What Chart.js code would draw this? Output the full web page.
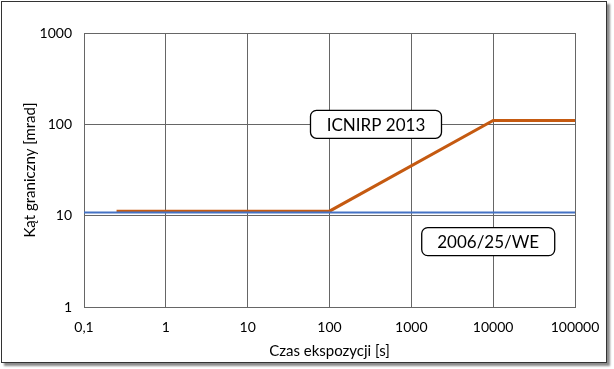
<!DOCTYPE html>
<html lang="pl">
<head>
  <meta charset="UTF-8">
  <title>Kąt graniczny</title>
  <script src="https://cdn.jsdelivr.net/npm/chart.js"></script>
  <style>
    html, body { margin: 0; padding: 0; background: #fff; }
    #wrap { position: relative; width: 614px; height: 369px; }
    #frame {
      position: absolute; left: 1px; top: 1px; width: 604px; height: 360px;
      border: 1.5px solid #333; box-shadow: 3px 3px 2px #8a8a8a; pointer-events: none;
    }
    canvas { position: absolute; left: 0; top: 0; }
  </style>
</head>
<body>
  <div id="wrap">
    <canvas id="chart" width="614" height="369"></canvas>
    <div id="frame"></div>
  </div>

  <script>
    const xTicks = [0.1, 1, 10, 100, 1000, 10000, 100000];
    const yTicks = [1, 10, 100, 1000];

    // ICNIRP 2013
    const icnirpX = [0.25, 100, 10000, 100000];
    const icnirpY = [11.2, 11.2, 110, 110];
    // 2006/25/WE
    const weX = [0.1, 100000];
    const weY = [10.8, 10.8];

    const labels = [
      { text: "ICNIRP 2013", x: 370, y: 100, w: 131, h: 28 },
      { text: "2006/25/WE", x: 8700, y: 5.2, w: 133, h: 28 }
    ];

    const toPts = (xs, ys) => xs.map((x, i) => ({ x: x, y: ys[i] }));
    const FONT = "Lato, 'Open Sans', sans-serif";
    const GRID = "#666666";

    const boxPlugin = {
      id: "boxes",
      afterDatasetsDraw(chart) {
        const ctx = chart.ctx;
        const xs = chart.scales.x, ys = chart.scales.y;
        ctx.save();
        labels.forEach(l => {
          const cx = xs.getPixelForValue(l.x), cy = ys.getPixelForValue(l.y);
          ctx.beginPath();
          ctx.roundRect(cx - l.w / 2, cy - l.h / 2, l.w, l.h, 6);
          ctx.fillStyle = "#fff";
          ctx.fill();
          ctx.lineWidth = 1.3;
          ctx.strokeStyle = "#000";
          ctx.stroke();
          ctx.fillStyle = "#000";
          ctx.font = "17px " + FONT;
          ctx.textAlign = "center";
          ctx.textBaseline = "middle";
          ctx.fillText(l.text, cx, cy + 1);
        });
        ctx.restore();
      }
    };

    new Chart(document.getElementById("chart"), {
      type: "line",
      data: {
        datasets: [
          {
            label: "2006/25/WE",
            data: toPts(weX, weY),
            borderColor: "#4472C4",
            borderWidth: 2,
            pointRadius: 0
          },
          {
            label: "ICNIRP 2013",
            data: toPts(icnirpX, icnirpY),
            borderColor: "#C55A11",
            borderWidth: 3,
            pointRadius: 0
          }
        ]
      },
      options: {
        responsive: false,
        animation: false,
        layout: { padding: { top: 33, right: 39, left: 17, bottom: 5 } },
        plugins: { legend: { display: false }, tooltip: { enabled: false } },
        scales: {
          x: {
            type: "logarithmic",
            min: 0.1, max: 100000,
            afterBuildTicks: s => { s.ticks = xTicks.map(v => ({ value: v })); },
            afterFit: s => { s.height = 57; },
            grid: { color: GRID, lineWidth: 1, drawTicks: false },
            border: { color: GRID },
            ticks: {
              padding: 12,
              color: "#000",
              font: { family: FONT, size: 14 },
              maxRotation: 0,
              callback: v => String(v).replace(".", ",")
            },
            title: {
              display: true,
              text: "Czas ekspozycji [s]",
              color: "#000",
              font: { family: FONT, size: 15 },
              padding: { top: 2 }
            }
          },
          y: {
            type: "logarithmic",
            min: 1, max: 1000,
            afterBuildTicks: s => { s.ticks = yTicks.map(v => ({ value: v })); },
            afterFit: s => { s.width = 67; },
            grid: { color: GRID, lineWidth: 1, drawTicks: false },
            border: { color: GRID },
            ticks: {
              padding: 12,
              color: "#000",
              font: { family: FONT, size: 14 },
              callback: v => String(v)
            },
            title: {
              display: true,
              text: "Kąt graniczny [mrad]",
              color: "#000",
              font: { family: FONT, size: 15 },
              padding: { bottom: 6 }
            }
          }
        }
      },
      plugins: [boxPlugin]
    });
  </script>
</body>
</html>
